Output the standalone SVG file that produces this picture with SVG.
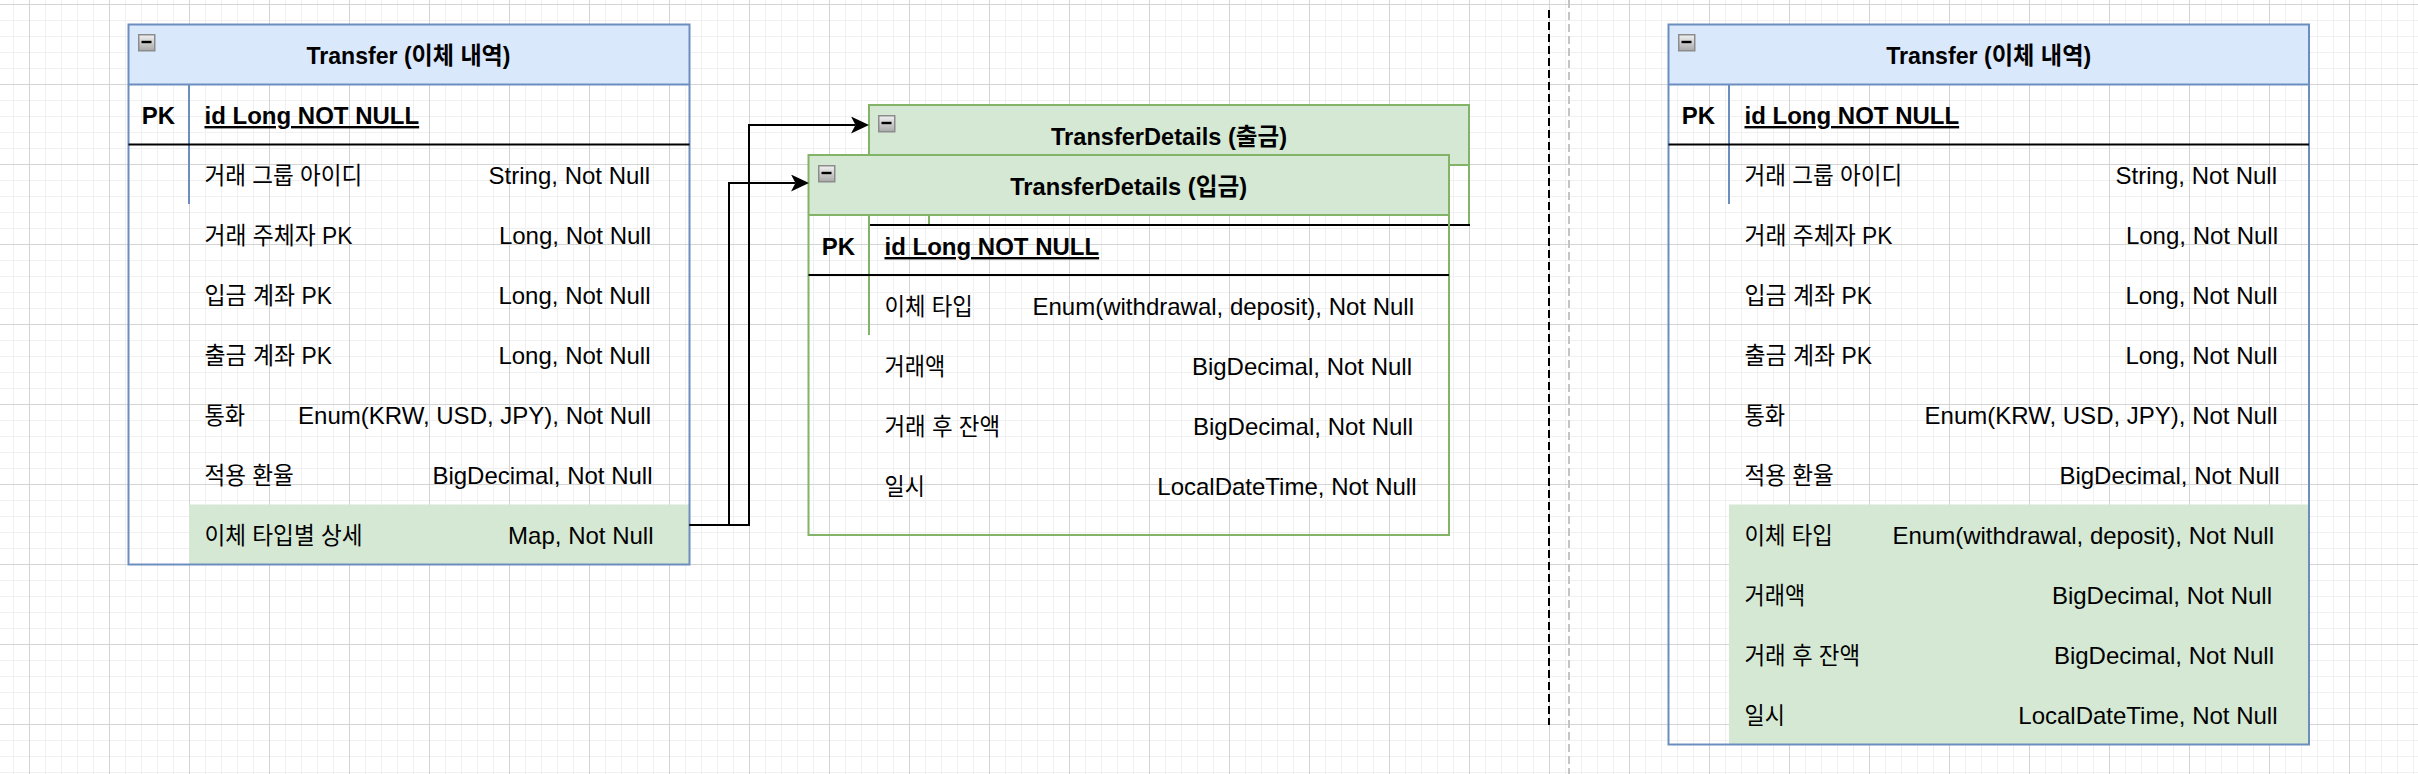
<svg xmlns="http://www.w3.org/2000/svg" xmlns:xlink="http://www.w3.org/1999/xlink" width="2418" height="774" viewBox="0 0 2418 774">
<style>
.t{font-family:"Liberation Sans","Noto Sans CJK KR",sans-serif;font-size:24px;fill:#000}
.b{font-weight:bold}
.u{text-decoration:underline}
.e{text-anchor:end}
.m{text-anchor:middle}
.bh{fill:#dae8fc}
.gh{fill:#d5e8d4}
.bs{stroke:#6c8ebf;stroke-width:2;fill:none}
.gs{stroke:#82b366;stroke-width:2;fill:none}
.sep{stroke:#000;stroke-width:2;fill:none}
.conn{stroke:#000;stroke-width:2;fill:none}
</style>
<defs>
<pattern id="grid" x="29" y="4" width="80" height="80" patternUnits="userSpaceOnUse">
<path d="M16.5 0V80M32.5 0V80M48.5 0V80M64.5 0V80M0 16.5H80M0 32.5H80M0 48.5H80M0 64.5H80" stroke="#f0f0f0" stroke-width="1"/>
<path d="M0.5 0V80M0 0.5H80" stroke="#d4d4d4" stroke-width="1"/>
</pattern>
<linearGradient id="btnGrad" x1="0" y1="0" x2="0" y2="1">
<stop offset="0" stop-color="#f2f2f2"/>
<stop offset="1" stop-color="#a8a8a8"/>
</linearGradient>
<g id="btn">
<rect x="0.75" y="0.75" width="16" height="16" fill="url(#btnGrad)" stroke="#8c8c8c" stroke-width="1.5"/>
<rect x="3.5" y="6.8" width="10" height="2.4" fill="#000"/>
</g>
<marker id="arr" viewBox="0 0 18 17" markerWidth="18" markerHeight="17" markerUnits="userSpaceOnUse" refX="4.5" refY="8.5" orient="auto">
<path d="M0 0L18 8.5L0 17L4.5 8.5Z" fill="#000"/>
</marker>
</defs>

<rect x="0" y="0" width="2418" height="774" fill="#ffffff"/>
<rect x="0" y="0" width="2418" height="774" fill="url(#grid)"/>

<g id="page-break">
<line x1="1569" y1="0" x2="1569" y2="774" stroke="#c4c4c4" stroke-width="2" stroke-dasharray="8 4"/>
</g>
<g id="divider">
<line x1="1549" y1="10" x2="1549" y2="725" stroke="#000" stroke-width="2" stroke-dasharray="8 4"/>
</g>

<g id="transfer-left">
<rect class="bh" x="128.5" y="24.5" width="561" height="60"/>
<rect class="gh" x="189" y="504.5" width="500.5" height="60"/>
<rect class="bs" x="128.5" y="24.5" width="561" height="540"/>
<line class="bs" x1="128.5" y1="84.5" x2="689.5" y2="84.5"/>
<line class="bs" x1="189" y1="84.5" x2="189" y2="204"/>
<line class="sep" x1="128.5" y1="144.5" x2="689.5" y2="144.5"/>
<use xlink:href="#btn" x="138" y="34"/>
<text class="t b m" x="408.5" y="64" textLength="204" lengthAdjust="spacingAndGlyphs">Transfer (이체 내역)</text>
<text class="t b m" x="158.5" y="124">PK</text>
<text class="t b u" x="204.5" y="124">id Long NOT NULL</text>
<text class="t" x="204.5" y="184" textLength="157.7" lengthAdjust="spacingAndGlyphs">거래 그룹 아이디</text>
<text class="t e" x="650" y="184">String, Not Null</text>
<text class="t" x="204.5" y="244" textLength="148" lengthAdjust="spacingAndGlyphs">거래 주체자 PK</text>
<text class="t e" x="651" y="244">Long, Not Null</text>
<text class="t" x="204.5" y="304" textLength="127.4" lengthAdjust="spacingAndGlyphs">입금 계좌 PK</text>
<text class="t e" x="650.5" y="304">Long, Not Null</text>
<text class="t" x="204.5" y="364" textLength="127.4" lengthAdjust="spacingAndGlyphs">출금 계좌 PK</text>
<text class="t e" x="650.5" y="364">Long, Not Null</text>
<text class="t" x="204.5" y="424" textLength="40.6" lengthAdjust="spacingAndGlyphs">통화</text>
<text class="t e" x="651" y="424">Enum(KRW, USD, JPY), Not Null</text>
<text class="t" x="204.5" y="484" textLength="89.2" lengthAdjust="spacingAndGlyphs">적용 환율</text>
<text class="t e" x="652.5" y="484">BigDecimal, Not Null</text>
<text class="t" x="204.5" y="544" textLength="158" lengthAdjust="spacingAndGlyphs">이체 타입별 상세</text>
<text class="t e" x="653.5" y="544">Map, Not Null</text>
</g>

<g id="transfer-details-out">
<rect class="gh" x="869" y="105" width="600" height="60"/>
<rect class="gs" x="869" y="105" width="600" height="120"/>
<line class="gs" x1="869" y1="165" x2="1469" y2="165"/>
<line class="gs" x1="929" y1="165" x2="929" y2="225"/>
<line class="sep" x1="869" y1="225" x2="1470" y2="225"/>
<use xlink:href="#btn" x="878" y="115"/>
<text class="t b m" x="1169" y="145" textLength="236" lengthAdjust="spacingAndGlyphs">TransferDetails (출금)</text>
</g>

<g id="transfer-details-in">
<rect class="gh" x="808.5" y="155" width="640.5" height="60"/>
<rect class="gs" x="808.5" y="155" width="640.5" height="380"/>
<line class="gs" x1="808.5" y1="215" x2="1449" y2="215"/>
<line class="gs" x1="869" y1="215" x2="869" y2="335"/>
<line class="sep" x1="808.5" y1="275" x2="1449" y2="275"/>
<use xlink:href="#btn" x="818" y="165"/>
<text class="t b m" x="1128.7" y="195" textLength="237" lengthAdjust="spacingAndGlyphs">TransferDetails (입금)</text>
<text class="t b m" x="838.5" y="255">PK</text>
<text class="t b u" x="884.5" y="255">id Long NOT NULL</text>
<text class="t" x="884.5" y="315" textLength="88.2" lengthAdjust="spacingAndGlyphs">이체 타입</text>
<text class="t e" x="1414" y="315">Enum(withdrawal, deposit), Not Null</text>
<text class="t" x="884.5" y="375" textLength="60.7" lengthAdjust="spacingAndGlyphs">거래액</text>
<text class="t e" x="1412" y="375">BigDecimal, Not Null</text>
<text class="t" x="884.5" y="435" textLength="115.5" lengthAdjust="spacingAndGlyphs">거래 후 잔액</text>
<text class="t e" x="1413" y="435">BigDecimal, Not Null</text>
<text class="t" x="884.5" y="495" textLength="40.3" lengthAdjust="spacingAndGlyphs">일시</text>
<text class="t e" x="1416.5" y="495">LocalDateTime, Not Null</text>
</g>

<g id="transfer-right">
<rect class="bh" x="1668.5" y="24.5" width="640.5" height="60"/>
<rect class="gh" x="1729" y="504.5" width="580" height="240"/>
<rect class="bs" x="1668.5" y="24.5" width="640.5" height="720"/>
<line class="bs" x1="1668.5" y1="84.5" x2="2309" y2="84.5"/>
<line class="bs" x1="1729" y1="84.5" x2="1729" y2="204"/>
<line class="sep" x1="1668.5" y1="144.5" x2="2309" y2="144.5"/>
<use xlink:href="#btn" x="1678" y="34"/>
<text class="t b m" x="1988.7" y="64" textLength="205" lengthAdjust="spacingAndGlyphs">Transfer (이체 내역)</text>
<text class="t b m" x="1698.5" y="124">PK</text>
<text class="t b u" x="1744.5" y="124">id Long NOT NULL</text>
<text class="t" x="1744.5" y="184" textLength="157.7" lengthAdjust="spacingAndGlyphs">거래 그룹 아이디</text>
<text class="t e" x="2277" y="184">String, Not Null</text>
<text class="t" x="1744.5" y="244" textLength="148" lengthAdjust="spacingAndGlyphs">거래 주체자 PK</text>
<text class="t e" x="2278" y="244">Long, Not Null</text>
<text class="t" x="1744.5" y="304" textLength="127.4" lengthAdjust="spacingAndGlyphs">입금 계좌 PK</text>
<text class="t e" x="2277.5" y="304">Long, Not Null</text>
<text class="t" x="1744.5" y="364" textLength="127.4" lengthAdjust="spacingAndGlyphs">출금 계좌 PK</text>
<text class="t e" x="2277.5" y="364">Long, Not Null</text>
<text class="t" x="1744.5" y="424" textLength="40.6" lengthAdjust="spacingAndGlyphs">통화</text>
<text class="t e" x="2277.5" y="424">Enum(KRW, USD, JPY), Not Null</text>
<text class="t" x="1744.5" y="484" textLength="89.2" lengthAdjust="spacingAndGlyphs">적용 환율</text>
<text class="t e" x="2279.5" y="484">BigDecimal, Not Null</text>
<text class="t" x="1744.5" y="544" textLength="88.2" lengthAdjust="spacingAndGlyphs">이체 타입</text>
<text class="t e" x="2274" y="544">Enum(withdrawal, deposit), Not Null</text>
<text class="t" x="1744.5" y="604" textLength="60.7" lengthAdjust="spacingAndGlyphs">거래액</text>
<text class="t e" x="2272" y="604">BigDecimal, Not Null</text>
<text class="t" x="1744.5" y="664" textLength="115.5" lengthAdjust="spacingAndGlyphs">거래 후 잔액</text>
<text class="t e" x="2274" y="664">BigDecimal, Not Null</text>
<text class="t" x="1744.5" y="724" textLength="40.3" lengthAdjust="spacingAndGlyphs">일시</text>
<text class="t e" x="2277.5" y="724">LocalDateTime, Not Null</text>
</g>

<g id="connectors">
<path class="conn" d="M689.5 525H749V125H855.5" marker-end="url(#arr)"/>
<path class="conn" d="M689.5 525H729V183H795.5" marker-end="url(#arr)"/>
</g>
</svg>
